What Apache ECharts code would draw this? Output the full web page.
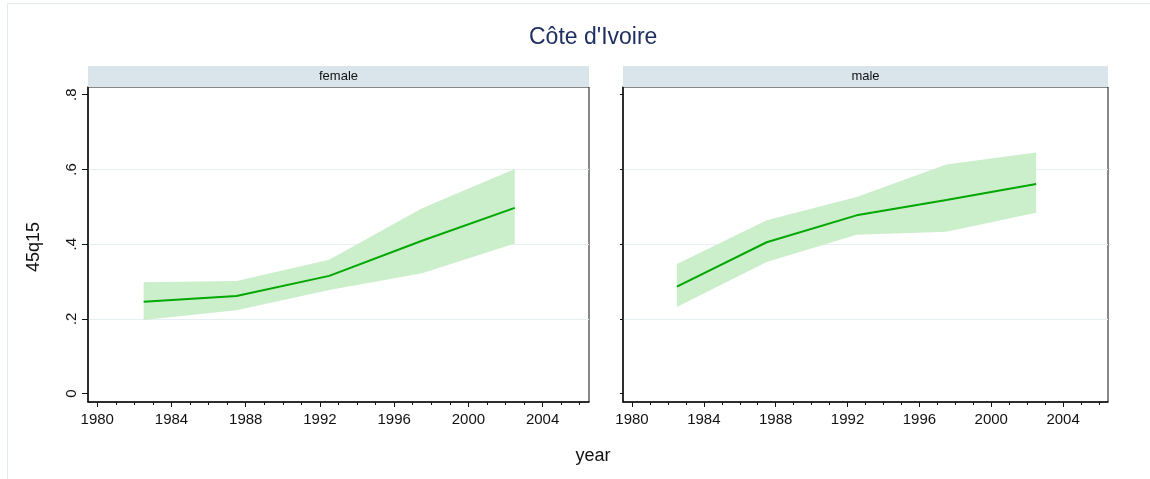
<!DOCTYPE html>
<html>
<head>
<meta charset="utf-8">
<script src="https://cdn.jsdelivr.net/npm/echarts@6/dist/echarts.min.js"></script>
<style>
html,body{margin:0;padding:0;background:#fff;}
#chart{width:1150px;height:479px;}
</style>
</head>
<body>
<div id="chart"></div>
<script>
const titleText = "Côte d'Ivoire";
const panels = ['female', 'male'];
const years = [1982.5, 1987.5, 1992.5, 1997.5, 2002.5];
const femaleMean = [0.246, 0.261, 0.315, 0.409, 0.497];
const femaleLow  = [0.197, 0.223, 0.277, 0.322, 0.402];
const femaleHigh = [0.298, 0.301, 0.358, 0.496, 0.601];
const maleMean = [0.286, 0.405, 0.477, 0.518, 0.561];
const maleLow  = [0.232, 0.352, 0.425, 0.433, 0.484];
const maleHigh = [0.347, 0.464, 0.526, 0.613, 0.645];
const xMajorTicks = [1980, 1984, 1988, 1992, 1996, 2000, 2004];
const xMinorTicks = [1980,1981,1982,1983,1984,1985,1986,1987,1988,1989,1990,1991,1992,1993,1994,1995,1996,1997,1998,1999,2000,2001,2002,2003,2004,2005,2006];
const yTicks = [0, 0.2, 0.4, 0.6, 0.8];
const yTickLabels = ['0', '.2', '.4', '.6', '.8'];
const xRange = [1979.5, 2006.5];
const yRange = [-0.0225, 0.8205];
const yName = '45q15';
const xName = 'year';

const FONT = "'Liberation Sans', Arial, sans-serif";
const grids = [
  {left: 88, top: 87, width: 501, height: 315},
  {left: 623, top: 87, width: 485, height: 315}
];
const panelData = [
  {mean: femaleMean, low: femaleLow, high: femaleHigh},
  {mean: maleMean, low: maleLow, high: maleHigh}
];

const option = {
  animation: false,
  backgroundColor: '#fff',
  title: {
    text: titleText, left: 524, top: 21,
    textStyle: {fontFamily: FONT, fontSize: 23, fontWeight: 'normal', color: '#1f3060'}
  },
  grid: grids.map(g => Object.assign({show: true, borderColor: '#111', borderWidth: 1, backgroundColor: '#fff'}, g)),
  xAxis: [],
  yAxis: [],
  series: [],
  graphic: []
};

grids.forEach((g, i) => {
  option.xAxis.push({
    type: 'value', gridIndex: i, min: xRange[0], max: xRange[1], position: 'bottom',
    axisLine: {show: true, onZero: false, lineStyle: {color: '#111', width: 1.5}},
    axisTick: {show: true, length: 5, customValues: xMajorTicks, lineStyle: {color: '#111', width: 1}},
    axisLabel: {show: true, customValues: xMajorTicks, margin: 10, fontFamily: FONT, fontSize: 15, color: '#111', formatter: v => String(v)},
    splitLine: {show: false}
  });
  option.xAxis.push({
    type: 'value', gridIndex: i, min: xRange[0], max: xRange[1], position: 'bottom',
    axisLine: {show: false, onZero: false},
    axisTick: {show: true, length: 3, customValues: xMinorTicks, lineStyle: {color: '#111', width: 1}},
    axisLabel: {show: false},
    splitLine: {show: false}
  });
  option.yAxis.push({
    type: 'value', gridIndex: i, min: yRange[0], max: yRange[1], position: 'left',
    axisLine: {show: true, onZero: false, lineStyle: {color: '#111', width: 1.5}},
    axisTick: {show: true, length: i === 0 ? 6 : 3, customValues: yTicks, lineStyle: {color: '#111', width: 1}},
    axisLabel: {show: i === 0, customValues: yTicks, rotate: 90, margin: 9, fontFamily: FONT, fontSize: 15, color: '#111',
      formatter: v => { const k = yTicks.findIndex(t => Math.abs(t - v) < 1e-6); return k >= 0 ? yTickLabels[k] : ''; }},
    splitLine: {show: true, showMinLine: false, showMaxLine: false, lineStyle: {color: '#e6eff1', width: 1}}
  });
  const d = panelData[i];
  const xi = i * 2;
  option.series.push({
    type: 'custom', xAxisIndex: xi, yAxisIndex: i, silent: true, z: 2,
    data: years.map((y, k) => [y, d.low[k], d.high[k]]),
    encode: {x: 0, y: [1, 2]},
    renderItem: function (params, api) {
      if (params.dataIndex !== 0) return null;
      const pts = [];
      for (let k = 0; k < years.length; k++) pts.push(api.coord([years[k], d.high[k]]));
      for (let k = years.length - 1; k >= 0; k--) pts.push(api.coord([years[k], d.low[k]]));
      return {type: 'polygon', shape: {points: pts}, style: {fill: '#cbeecb', stroke: null}};
    }
  });
  option.series.push({
    type: 'line', xAxisIndex: xi, yAxisIndex: i, symbol: 'none',
    lineStyle: {color: '#00a800', width: 2}, z: 3,
    data: years.map((y, k) => [y, d.mean[k]])
  });
  option.graphic.push({
    type: 'rect', shape: {x: g.left, y: 66, width: g.width, height: 21},
    style: {fill: '#d9e5eb'}, z: 1
  });
  option.graphic.push({
    type: 'text', x: g.left + g.width / 2, y: 76.5,
    style: {text: panels[i], fill: '#111', font: '13px ' + FONT, textAlign: 'center', textVerticalAlign: 'middle'}, z: 2
  });
});

option.graphic.push({
  type: 'rect', shape: {x: 7.5, y: 3.5, width: 1160, height: 500},
  style: {fill: 'none', stroke: '#e3ebee', lineWidth: 1}, z: 0
});
option.graphic.push({
  type: 'text', x: 593, y: 456,
  style: {text: xName, fill: '#111', font: '18px ' + FONT, textAlign: 'center', textVerticalAlign: 'middle'}
});
option.graphic.push({
  type: 'text', x: 34, y: 247, rotation: Math.PI / 2,
  style: {text: yName, fill: '#111', font: '18px ' + FONT, textAlign: 'center', textVerticalAlign: 'middle'}
});

const chart = echarts.init(document.getElementById('chart'), null, {renderer: 'canvas'});
chart.setOption(option);
</script>
</body>
</html>
